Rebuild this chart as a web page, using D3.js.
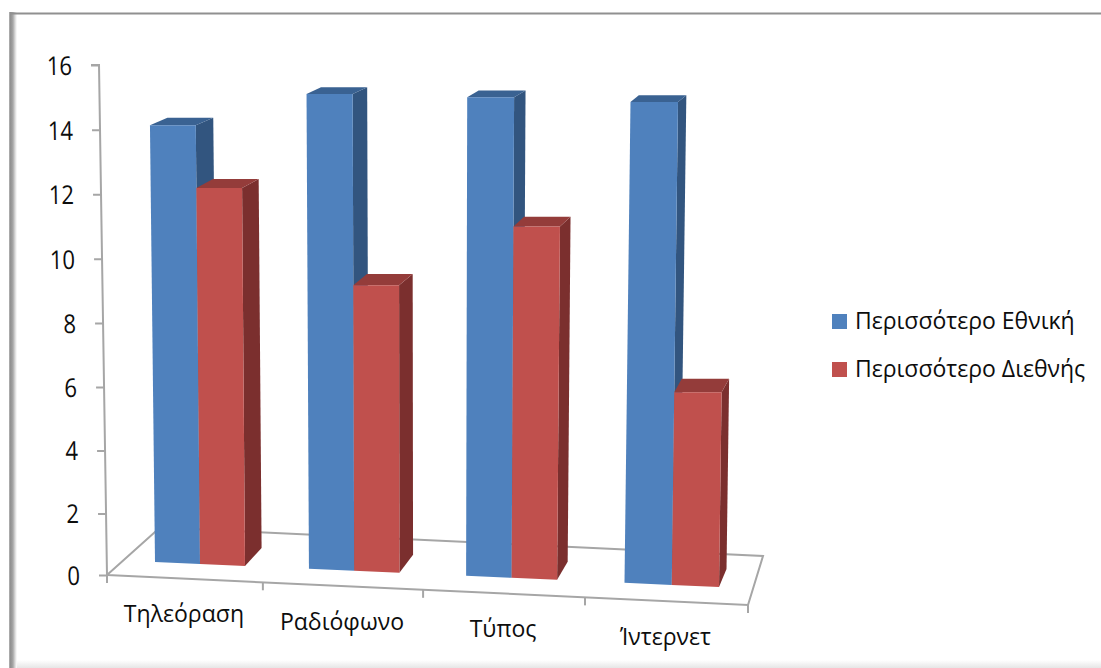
<!DOCTYPE html>
<html>
<head>
<meta charset="utf-8">
<script src="https://cdn.jsdelivr.net/npm/d3@7/dist/d3.min.js"></script>
<style>
html,body{margin:0;padding:0;background:#fff;overflow:hidden}
svg{display:block}
text{font-family:"Open Sans",sans-serif;fill:#0d0d0d}
</style>
</head>
<body>
<svg id="chart" width="1101" height="668"></svg>
<script>
const categories = ["Τηλεόραση", "Ραδιόφωνο", "Τύπος", "Ίντερνετ"];
const seriesNames = ["Περισσότερο Εθνική", "Περισσότερο Διεθνής"];
const nationalValues = [14, 15, 15, 15];
const internationalValues = [12, 9, 11, 6];
const yTicks = [0, 2, 4, 6, 8, 10, 12, 14, 16];

const frontFaceColors = ["#4f81bd", "#c0504d"];
const sideFaceColors = ["#32557f", "#7b2f2e"];
const topFaceColors = ["#3a6292", "#943c3a"];

const svg = d3.select("#chart");
const defs = svg.append("defs");

function fade(id, x2, y2, stops) {
  const g = defs.append("linearGradient").attr("id", id)
    .attr("x1", 0).attr("y1", 0).attr("x2", x2).attr("y2", y2);
  stops.forEach(([o, c]) => g.append("stop").attr("offset", o).attr("stop-color", c));
}
fade("leftEdge", 1, 0, [[0, "#b5b5b5"], [0.2, "#8f8f8f"], [0.5, "#a8a8a8"], [0.75, "#d8d8d8"], [1, "#ffffff"]]);
fade("bottomEdge", 0, 1, [[0, "#ffffff"], [1, "#e6e6e6"]]);

// Picture frame around the chart area
svg.append("rect").attr("x", 17).attr("y", 660).attr("width", 1084).attr("height", 8).attr("fill", "url(#bottomEdge)");
svg.append("rect").attr("x", 9).attr("y", 12).attr("width", 8).attr("height", 656).attr("fill", "url(#leftEdge)");
svg.append("rect").attr("x", 10).attr("y", 12.5).attr("width", 1091).attr("height", 2).attr("fill", "#909090");

// Squeeze text horizontally by a constant factor
function condense(sel, k) {
  sel.each(function () {
    d3.select(this).attr("textLength", this.getComputedTextLength() * k)
      .attr("lengthAdjust", "spacingAndGlyphs");
  });
}

// Value axis: the whole axis leans slightly because of the 3D view
const y = d3.scalePow().exponent(1.017).domain([0, 16]).range([575, 65]);
const axisLean = -8 / 510;
const yAxis = svg.append("g")
  .attr("transform", `translate(107,0) translate(0,575) skewX(${Math.atan(-axisLean) * 180 / Math.PI}) translate(0,-575)`)
  .call(d3.axisLeft(y).tickValues(yTicks).tickFormat(d3.format("d")).tickSize(8).tickPadding(19));
yAxis.selectAll("path").attr("stroke", "#a6a6a6").attr("stroke-width", 2).attr("d", `M-8,${y(16)}H0V${y(0)}`);
yAxis.selectAll("line").attr("stroke", "#a6a6a6").attr("stroke-width", 2);
yAxis.selectAll("text").attr("font-size", 26).attr("dy", "0.36em").attr("fill", "#0d0d0d").style("font-family", '"Open Sans",sans-serif');
condense(yAxis.selectAll("text"), 0.85);

// Floor of the 3D plot
const frontLeft = [107, 575], frontRight = [748, 605], backRight = [763, 556], backLeft = [160, 527.5];
const frontX = d3.scalePow().exponent(1.02).domain([0, categories.length]).range([frontLeft[0], frontRight[0]]);
const frontY = d3.scaleLinear().domain([frontLeft[0], frontRight[0]]).range([frontLeft[1], frontRight[1]]);
svg.append("path")
  .attr("d", d3.line()([frontLeft, frontRight, backRight, backLeft, frontLeft]))
  .attr("fill", "none").attr("stroke", "#a6a6a6").attr("stroke-width", 2);

// Category ticks on the front edge of the floor
d3.range(categories.length + 1).forEach(i => {
  const tx = frontX(i);
  svg.append("line").attr("x1", tx).attr("x2", tx)
    .attr("y1", frontY(tx)).attr("y2", frontY(tx) + 8)
    .attr("stroke", "#a6a6a6").attr("stroke-width", 2);
});

// Category labels follow the slope of the floor but stay horizontal
const catLabels = svg.append("g").selectAll("text").data(categories).join("text")
  .attr("x", (d, i) => (frontX(i) + frontX(i + 1)) / 2 - 1)
  .attr("y", (d, i) => frontY((frontX(i) + frontX(i + 1)) / 2) + 43.6)
  .attr("text-anchor", "middle").attr("font-size", 24).text(d => d);
condense(catLabels, 0.96);

// Bars: projected cuboids standing on the floor; spacing widens towards the viewer's right
const groupIndex = d3.scalePow().exponent(1.015).domain([0, categories.length - 1]).range([155, 624.5]);
const groupX = c => groupIndex(categories.indexOf(c));
const groupWidth = d3.scaleLinear().domain([155, 466, 624]).range([90, 91, 94.5]);
const unitHeight = d3.scaleLinear().domain([156, 310, 467, 625]).range([31.2, 31.65, 31.9, 32.05]);
const baseY = d3.scaleLinear().domain([156, 719]).range([562, 587]);
const lean = d3.scaleLinear().domain([156, 430, 625, 719]).range([-0.0115, 0, 0.0125, 0.0135]);
const depthX = d3.scaleLinear().domain([194, 722]).range([17.5, 7.5]);
const depthY = d3.scaleLinear().domain([0, 16]).range([-18, -6]);

const seriesValues = [nationalValues, internationalValues];
const bars = categories.flatMap((c, ci) => seriesValues.map((vals, si) => ({ c, ci, si, v: vals[ci] })));

const barG = svg.append("g").selectAll("g").data(bars).join("g");
barG.each(function (d) {
  const g = d3.select(this);
  const gx = groupX(d.c), w = groupWidth(gx) / 2;
  const xl = gx + d.si * w, xr = xl + w;
  const h = d.v * unitHeight(xl);
  const yl = baseY(xl), yr = baseY(xr);
  const topY = yl - h;
  const tl = [xl + lean(xl) * h, topY], tr = [xr + lean(xr) * h, topY];
  const dx = depthX(tr[0]), dyTop = depthY(d.v), dyBase = depthY(0);
  const poly = pts => d3.line()(pts) + "Z";
  g.append("path").attr("fill", sideFaceColors[d.si]).attr("d", poly([
    tr, [tr[0] + dx, topY + dyTop], [xr + dx, yr + dyBase], [xr, yr]]));
  g.append("path").attr("fill", topFaceColors[d.si]).attr("d", poly([
    tl, [tl[0] + dx, topY + dyTop], [tr[0] + dx, topY + dyTop], tr]));
  g.append("path").attr("fill", frontFaceColors[d.si]).attr("d", poly([
    tl, tr, [xr, yr], [xl, yl]]));
});

// Legend
const legend = svg.append("g").selectAll("g").data(seriesNames).join("g")
  .attr("transform", (d, i) => `translate(832,${314 + i * 48})`);
legend.append("rect").attr("width", 15).attr("height", 15).attr("fill", (d, i) => frontFaceColors[i]);
const legendText = legend.append("text").attr("x", 23).attr("y", 14.5).attr("font-size", 23).text(d => d);
condense(legendText, 1);
</script>
</body>
</html>
